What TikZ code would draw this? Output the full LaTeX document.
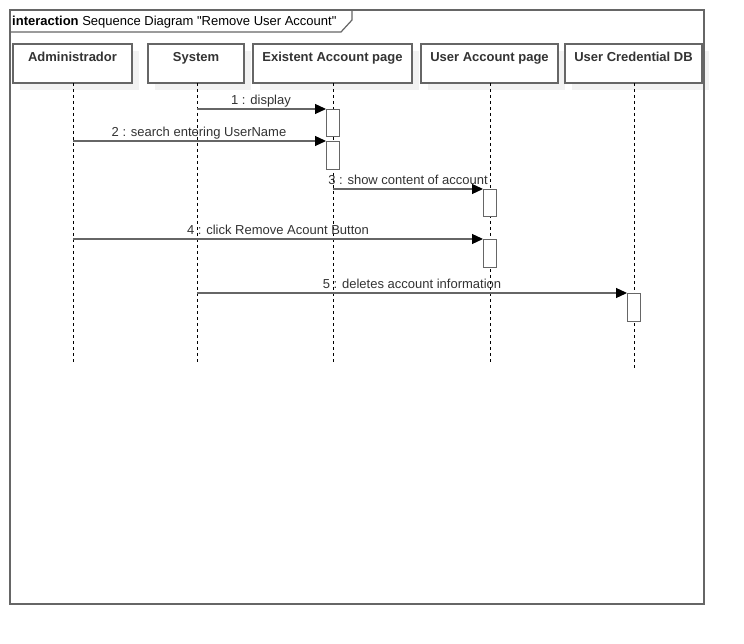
\documentclass[tikz,border=0pt]{standalone}
\usepackage{fontspec}
\setmainfont{Liberation Sans}[Ligatures=TeXOff]
\usetikzlibrary{arrows.meta}
\definecolor{edge}{HTML}{666666}
\definecolor{txt}{HTML}{333333}
\definecolor{boxshadow}{HTML}{F2F2F2}
\begin{document}
\begin{tikzpicture}[x=1pt,y=-1pt,
  lifebox/.style={draw=edge,line width=1.2pt,fill=white,minimum height=39pt,inner sep=0pt},
  lifelabel/.style={font=\bfseries\fontsize{13}{15}\selectfont,text=txt,anchor=base,inner sep=0pt},
  lifeline/.style={dash pattern=on 3pt off 3pt,line width=0.8pt,black},
  actbox/.style={draw=edge,line width=1.2pt,fill=white,minimum width=13pt,inner sep=0pt,anchor=north west},
  msg/.style={draw=edge,line width=1.2pt,-{Triangle[length=11pt,width=10pt,fill=black,color=black]}},
  msglabel/.style={font=\fontsize{13}{15}\selectfont,text=txt,inner sep=0pt,anchor=base}]
\useasboundingbox (0,0) rectangle (744,644);
\fill[white] (0,0) rectangle (744,644);

% soft shadows behind the lifeline heads
\foreach \l/\r in {13/132,148/244,253/412,421/558,565/702}
  \fill[boxshadow] (\l+7,51) rectangle (\r+7,90);

% frame and its title tab
\draw[edge,line width=1.2pt] (10,10) rectangle (704,604);
\draw[edge,line width=1.2pt] (10,32) -- (341,32) -- (352,20) -- (352,10);
\node[anchor=base west,inner sep=0pt,font=\fontsize{13}{15}\selectfont,text=black] (title) at (12,26)
  {\textbf{interaction} Sequence Diagram "Remove User Account"};

% lifeline heads
\node[lifebox,minimum width=119pt] (admin) at (72.5,63.5) {};
\node[lifebox,minimum width=96pt] (sys) at (196,63.5) {};
\node[lifebox,minimum width=159pt] (exist) at (332.5,63.5) {};
\node[lifebox,minimum width=137pt] (uap) at (489.5,63.5) {};
\node[lifebox,minimum width=137pt] (db) at (633.5,63.5) {};
\node[lifelabel] at (72.5,62) {Administrador};
\node[lifelabel] at (196,62) {System};
\node[lifelabel] at (332.5,62) {Existent Account page};
\node[lifelabel] at (489.5,62) {User Account page};
\node[lifelabel] at (633.5,62) {User Credential DB};

% lifelines
\coordinate (adminE) at (73,364);
\coordinate (sysE) at (197,364);
\coordinate (existE) at (333,364);
\coordinate (uapE) at (490,364);
\coordinate (dbE) at (634,370);
\draw[lifeline] (73,83) -- (adminE);
\draw[lifeline] (197,83) -- (sysE);
\draw[lifeline] (333,83) -- (existE);
\draw[lifeline] (490,83) -- (uapE);
\draw[lifeline] (634,83) -- (dbE);

% activation bars
\node[actbox,minimum height=27pt] (a1) at (326,109) {};
\node[actbox,minimum height=28pt] (a2) at (326,141) {};
\node[actbox,minimum height=27pt] (a3) at (483,189) {};
\node[actbox,minimum height=28pt] (a4) at (483,239) {};
\node[actbox,minimum height=28pt] (a5) at (627,293) {};

% messages
\coordinate (m1s) at (197,109);
\coordinate (m2s) at (73,141);
\coordinate (m3s) at (333,189);
\coordinate (m4s) at (73,239);
\coordinate (m5s) at (197,293);
\draw[msg] (m1s) -- (a1.north west);
\draw[msg] (m2s) -- (a2.north west);
\draw[msg] (m3s) -- (a3.north west);
\draw[msg] (m4s) -- (a4.north west);
\draw[msg] (m5s) -- (a5.north west);
\node[msglabel] at (261,105) {1 : display};
\node[msglabel] at (199,137) {2 : search entering UserName};
\node[msglabel] at (408,185) {3 : show content of account};
\node[msglabel] at (278,235) {4 : click Remove Acount Button};
\node[msglabel] at (412,289) {5 : deletes account information};
\end{tikzpicture}
\end{document}
